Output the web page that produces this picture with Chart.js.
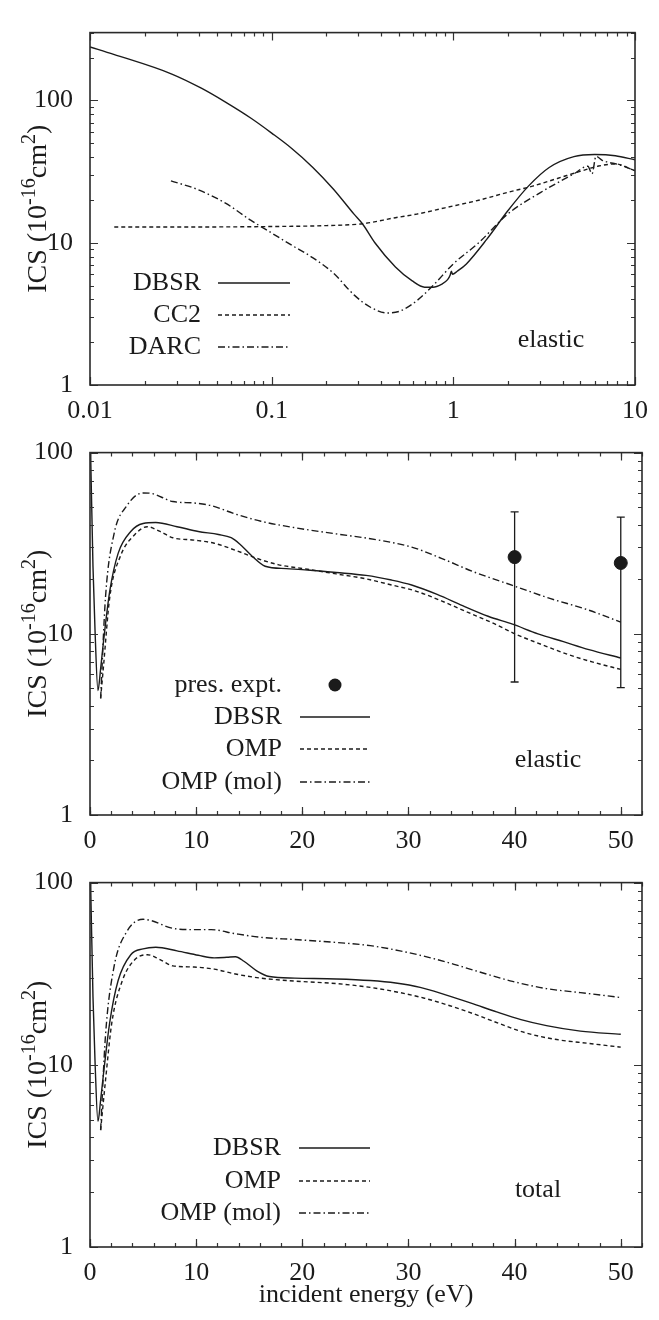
<!DOCTYPE html>
<html>
<head>
<meta charset="utf-8">
<script src="https://cdn.jsdelivr.net/npm/chart.js@4.4.1/dist/chart.umd.min.js"></script>
<style>
  body { margin: 0; background: #fff; width: 659px; height: 1320px; position: relative; overflow: hidden; }
  canvas { position: absolute; left: 0; }
</style>
</head>
<body>
<canvas id="c1" width="659" height="425" style="top:0"></canvas>
<canvas id="c2" width="659" height="432" style="top:420px"></canvas>
<canvas id="c3" width="659" height="470" style="top:850px"></canvas>
<script>
// ---- panel 1: elastic ICS, low energies (log-log) ----
const lowDbsrE = [0.01, 0.0135, 0.028, 0.041, 0.056, 0.077, 0.1, 0.129, 0.168, 0.219, 0.284, 0.316, 0.37, 0.48, 0.594, 0.695, 0.773, 0.86, 0.93, 0.96, 0.975, 0.99, 1.05, 1.18, 1.53, 1.99, 2.59, 3.37, 4.61, 6.0, 7.8, 10];
const lowDbsrQ = [238, 211, 154, 122, 97, 75, 59, 46, 34, 23.8, 15.9, 13.6, 10, 6.76, 5.39, 4.87, 4.87, 5.1, 5.5, 5.9, 6.3, 6.0, 6.3, 7.1, 10.6, 16.7, 25, 33.8, 40.3, 41.7, 40.9, 38.3];
const lowCc2E = [0.0136, 0.03, 0.1, 0.2, 0.316, 0.48, 0.63, 0.9, 1.38, 1.99, 2.73, 3.74, 5.13, 6.3, 7.8, 10];
const lowCc2Q = [12.9, 12.9, 13.0, 13.2, 13.6, 15.0, 15.9, 17.6, 19.9, 22.6, 25, 28.3, 32.1, 34.6, 35.8, 32.1];
const lowDarcE = [0.0279, 0.0387, 0.056, 0.0766, 0.1, 0.129, 0.168, 0.219, 0.284, 0.35, 0.434, 0.51, 0.626, 0.773, 1.0, 1.38, 1.99, 3.03, 4.61, 5.5, 5.8, 6.1, 6.6, 7.0, 8.2, 10];
const lowDarcQ = [27.2, 23.8, 18.9, 14.4, 11.7, 9.6, 7.86, 6.1, 4.3, 3.52, 3.21, 3.31, 3.89, 5.0, 7.1, 10, 15.9, 22.6, 30.5, 34.5, 30.5, 40.5, 38, 37, 35.3, 32.1];

// ---- panel 2: elastic ICS, 0-50 eV ----
const elDbsrE = [0.05, 0.28, 0.47, 0.75, 1.0, 1.27, 1.86, 2.65, 3.84, 5.0, 6.2, 8.2, 10.2, 12.1, 13.3, 14.1, 15.3, 16.5, 18.5, 20.5, 23.2, 26, 28.4, 30.3, 32.7, 35.1, 37.5, 39.8, 42.2, 44.6, 47, 50];
const elDbsrQ = [105, 23.6, 10.6, 4.86, 6.4, 9.05, 17.2, 27.8, 36.7, 40.6, 41.1, 39, 36.7, 35.3, 33.9, 31.3, 26.7, 23.6, 22.9, 22.5, 21.8, 21, 19.8, 18.6, 16.5, 14.3, 12.5, 11.3, 10, 9.05, 8.18, 7.35];
const elOmpE = [1.0, 1.27, 1.86, 2.85, 4.23, 5.4, 6.6, 7.8, 9.8, 11.7, 13.7, 15.7, 17.7, 20.5, 23.2, 26, 28.4, 30.7, 33.1, 35.5, 37.9, 40.2, 42.6, 45, 47.3, 50];
const elOmpQ = [4.4, 6.6, 15.9, 26.7, 35.3, 39, 36.7, 33.9, 32.9, 31.6, 28.9, 26.1, 24.1, 22.7, 21.4, 20.1, 18.6, 17.2, 15.2, 13.2, 11.5, 9.9, 8.7, 7.7, 7.0, 6.36];
const elMolE = [1.0, 1.46, 2.25, 3.44, 5.0, 5.8, 7.8, 9.8, 11.4, 13.7, 16.1, 19.3, 23.2, 27.2, 30.3, 33.1, 36.3, 39.8, 43, 47, 50];
const elMolQ = [4.4, 15.9, 35.3, 50.6, 59.9, 59.5, 53.7, 52.7, 51, 45.8, 41.8, 38.5, 35.6, 32.9, 30.1, 26.1, 21.8, 18.5, 15.9, 13.5, 11.6];
const exptE = [40, 50];
const exptQ = [26.5, 24.6];
const exptLo = [5.42, 5.04];
const exptHi = [47.1, 44];

// ---- panel 3: total ICS, 0-50 eV ----
const totDbsrE = [0.05, 0.28, 0.47, 0.75, 1.0, 1.27, 1.86, 2.65, 3.84, 5.0, 6.2, 8.2, 10.2, 11.7, 12.9, 13.7, 14.5, 15.7, 16.9, 19.3, 23.2, 26.4, 28.8, 31.1, 33.5, 35.9, 38.3, 40.6, 43, 46.2, 50];
const totDbsrQ = [105, 23.6, 10.6, 4.89, 6.4, 8.9, 17.1, 29, 40.2, 43.3, 44.2, 42.2, 39.9, 38.6, 38.9, 39.2, 37, 32.8, 30.5, 29.9, 29.6, 29, 28.1, 26.6, 24.2, 21.8, 19.5, 17.7, 16.4, 15.3, 14.7];
const totOmpE = [1.0, 1.46, 2.06, 3.05, 4.23, 5.4, 6.6, 7.8, 9.8, 11.7, 13.7, 16.1, 19.3, 23.2, 26.4, 29.2, 31.5, 33.9, 36.3, 38.6, 41, 43.8, 47, 50];
const totOmpQ = [4.38, 8.2, 17.1, 29, 37.8, 40.2, 37.8, 34.9, 34.4, 33.5, 31.5, 29.9, 28.8, 27.9, 26.6, 24.9, 23.2, 21.1, 18.9, 16.8, 15, 13.8, 13.1, 12.5];
const totMolE = [1.0, 1.46, 2.25, 3.44, 5.0, 5.8, 7.8, 9.8, 11.4, 13.7, 16.1, 19.3, 23.2, 26.4, 29.2, 31.9, 34.3, 37.1, 39.8, 43, 46.2, 50];
const totMolQ = [4.38, 14.5, 34.2, 53.5, 62.9, 61.8, 56.1, 55.2, 55.2, 52.4, 50.1, 48.7, 46.9, 45.1, 42.2, 38.9, 35.6, 31.8, 28.7, 26.2, 24.9, 23.4];

// tick labels
const logXTicks = [0.01, 0.1, 1, 10];
const logYTicks = [1, 10, 100];
const linXTicks = [0, 10, 20, 30, 40, 50];

const serif = '"Liberation Serif", "Times New Roman", serif';
const ink = '#1b1b1b';
const FS = 26;
const TFS = 28;

const pts = (xs, ys) => xs.map((v, i) => ({ x: v, y: ys[i] }));
const solid = [];
const dashed = [4, 3];
const dashDot = [7, 3, 1.5, 3];

function line(label, xs, ys, dash) {
  return {
    label, data: pts(xs, ys), borderColor: ink, borderWidth: 1.4, borderDash: dash,
    pointRadius: 0, fill: false, cubicInterpolationMode: 'monotone'
  };
}

// minor tick values for frame
function logMinor(lo, hi) {
  const out = [];
  for (let d = lo; d < hi; d *= 10) for (let m = 2; m <= 9; m++) if (d * m <= hi) out.push(d * m);
  return out;
}
function linMinor(lo, hi, step) {
  const out = [];
  for (let v = lo; v <= hi; v += step) out.push(v);
  return out;
}

// gnuplot-like box, inward ticks, in-plot key, y title, error bars
const gnuFrame = {
  id: 'gnuFrame',
  beforeDatasetsDraw(chart, args, o) {
    const { ctx } = chart;
    const sx = chart.scales.x, sy = chart.scales.y;
    if (!o.errors) return;
    ctx.save();
    ctx.strokeStyle = ink; ctx.lineWidth = 1.3;
    o.errors.x.forEach((xv, i) => {
      const px = sx.getPixelForValue(xv);
      const p1 = sy.getPixelForValue(o.errors.lo[i]), p2 = sy.getPixelForValue(o.errors.hi[i]);
      ctx.beginPath();
      ctx.moveTo(px, p1); ctx.lineTo(px, p2);
      ctx.moveTo(px - 4, p1); ctx.lineTo(px + 4, p1);
      ctx.moveTo(px - 4, p2); ctx.lineTo(px + 4, p2);
      ctx.stroke();
    });
    ctx.restore();
  },
  afterDatasetsDraw(chart, args, o) {
    const { ctx, chartArea: a } = chart;
    const sx = chart.scales.x, sy = chart.scales.y;
    ctx.save();
    ctx.strokeStyle = '#333'; ctx.lineWidth = 1.2;
    const xt = (vals, len) => vals.forEach(v => {
      const p = Math.round(sx.getPixelForValue(v)) + 0.5;
      ctx.beginPath();
      ctx.moveTo(p, a.bottom); ctx.lineTo(p, a.bottom - len);
      ctx.moveTo(p, a.top); ctx.lineTo(p, a.top + len);
      ctx.stroke();
    });
    const yt = (vals, len) => vals.forEach(v => {
      const p = Math.round(sy.getPixelForValue(v)) + 0.5;
      ctx.beginPath();
      ctx.moveTo(a.left, p); ctx.lineTo(a.left + len, p);
      ctx.moveTo(a.right, p); ctx.lineTo(a.right - len, p);
      ctx.stroke();
    });
    xt(o.xMajor, 8); xt(o.xMinor, 4);
    yt(o.yMajor, 8); yt(o.yMinor, 4);
    ctx.lineWidth = 1.6; ctx.strokeStyle = '#2a2a2a';
    ctx.strokeRect(a.left, a.top, a.width, a.height);

    // key
    ctx.fillStyle = ink; ctx.font = FS + 'px ' + serif;
    ctx.textBaseline = 'middle';
    const k = o.key;
    k.rows.forEach(r => {
      ctx.textAlign = 'right';
      ctx.fillText(r.text, k.right, r.y);
      const ds = chart.data.datasets[r.ds];
      if (r.marker) {
        ctx.beginPath(); ctx.arc(k.markerX, r.y, 6.5, 0, Math.PI * 2); ctx.fill();
      } else {
        ctx.save();
        ctx.strokeStyle = ink; ctx.lineWidth = ds.borderWidth; ctx.setLineDash(ds.borderDash || []);
        ctx.beginPath(); ctx.moveTo(k.x0, r.y); ctx.lineTo(k.x1, r.y); ctx.stroke();
        ctx.restore();
      }
    });
    // annotation
    ctx.textAlign = 'center';
    ctx.fillText(o.note.text, o.note.x, o.note.y);

    // y title with superscripts
    const big = TFS + 'px ' + serif, small = Math.round(TFS * 0.72) + 'px ' + serif;
    const parts = [['ICS (10', big, 0], ['-16', small, -11], ['cm', big, 0], ['2', small, -11], [')', big, 0]];
    let w = 0;
    parts.forEach(p => { ctx.font = p[1]; w += ctx.measureText(p[0]).width; });
    ctx.translate(o.titleX, (a.top + a.bottom) / 2);
    ctx.rotate(-Math.PI / 2);
    ctx.textAlign = 'left'; ctx.textBaseline = 'alphabetic';
    let cx = -w / 2;
    parts.forEach(p => { ctx.font = p[1]; ctx.fillText(p[0], cx, p[2]); cx += ctx.measureText(p[0]).width; });
    ctx.restore();
  }
};

function axes(xType, xMin, xMax, xTicks, yMax, xHeight, xTitle) {
  const tickFont = { family: serif, size: FS };
  return {
    x: {
      type: xType, min: xMin, max: xMax,
      grid: { display: false, drawTicks: false }, border: { display: false },
      ticks: { font: tickFont, color: ink, padding: 11, maxRotation: 0, autoSkip: false, callback: v => String(v) },
      afterBuildTicks: s => { s.ticks = xTicks.map(v => ({ value: v })); },
      afterFit: s => { s.height = xHeight; },
      title: xTitle ? { display: true, text: xTitle, font: tickFont, color: ink, padding: { top: 0, bottom: 9 } } : { display: false }
    },
    y: {
      type: 'logarithmic', min: 1, max: yMax,
      grid: { display: false, drawTicks: false }, border: { display: false },
      ticks: { font: tickFont, color: ink, padding: 17, autoSkip: false, callback: v => String(v) },
      afterBuildTicks: s => { s.ticks = logYTicks.map(v => ({ value: v })); },
      afterFit: s => { s.width = 90; }
    }
  };
}

function makeChart(id, datasets, topPad, scales, frame) {
  return new Chart(document.getElementById(id), {
    type: 'line',
    data: { datasets },
    options: {
      responsive: false, animation: false, parsing: true,
      layout: { padding: { top: topPad, right: 17, left: 0, bottom: 0 } },
      plugins: { legend: { display: false }, tooltip: { enabled: false }, gnuFrame: frame },
      scales
    },
    plugins: [gnuFrame]
  });
}

// panel 1
makeChart('c1', [
  line('DBSR', lowDbsrE, lowDbsrQ, solid),
  line('CC2', lowCc2E, lowCc2Q, dashed),
  line('DARC', lowDarcE, lowDarcQ, dashDot)
], 6, axes('logarithmic', 0.01, 10, logXTicks, 300, 40, null), {
  xMajor: logXTicks, xMinor: logMinor(0.01, 10),
  yMajor: logYTicks, yMinor: logMinor(1, 300),
  key: { right: 201, x0: 218, x1: 290, rows: [
    { text: 'DBSR', y: 283, ds: 0 }, { text: 'CC2', y: 315, ds: 1 }, { text: 'DARC', y: 347, ds: 2 }] },
  note: { text: 'elastic', x: 551, y: 340 },
  titleX: 46
});

// panel 2
makeChart('c2', [
  line('DBSR', elDbsrE, elDbsrQ, solid),
  line('OMP', elOmpE, elOmpQ, dashed),
  line('OMP (mol)', elMolE, elMolQ, dashDot),
  { label: 'pres. expt.', data: pts(exptE, exptQ), showLine: false, pointRadius: 6.5,
    pointBackgroundColor: ink, pointBorderColor: ink, borderColor: ink }
], 15, axes('linear', 0, 52, linXTicks, 100, 37, null), {
  xMajor: linXTicks, xMinor: linMinor(0, 52, 2),
  yMajor: logYTicks, yMinor: logMinor(1, 100),
  errors: { x: exptE, lo: exptLo, hi: exptHi },
  key: { right: 282, x0: 300, x1: 370, markerX: 335, rows: [
    { text: 'pres. expt.', y: 265, ds: 3, marker: true },
    { text: 'DBSR', y: 297, ds: 0 }, { text: 'OMP', y: 329, ds: 1 }, { text: 'OMP (mol)', y: 362, ds: 2 }] },
  note: { text: 'elastic', x: 548, y: 340 },
  titleX: 46
});

// panel 3
makeChart('c3', [
  line('DBSR', totDbsrE, totDbsrQ, solid),
  line('OMP', totOmpE, totOmpQ, dashed),
  line('OMP (mol)', totMolE, totMolQ, dashDot)
], 18, axes('linear', 0, 52, linXTicks, 100, 73, 'incident energy (eV)'), {
  xMajor: linXTicks, xMinor: linMinor(0, 52, 2),
  yMajor: logYTicks, yMinor: logMinor(1, 100),
  key: { right: 281, x0: 299, x1: 370, rows: [
    { text: 'DBSR', y: 298, ds: 0 }, { text: 'OMP', y: 331, ds: 1 }, { text: 'OMP (mol)', y: 363, ds: 2 }] },
  note: { text: 'total', x: 538, y: 340 },
  titleX: 46
});
</script>
</body>
</html>
